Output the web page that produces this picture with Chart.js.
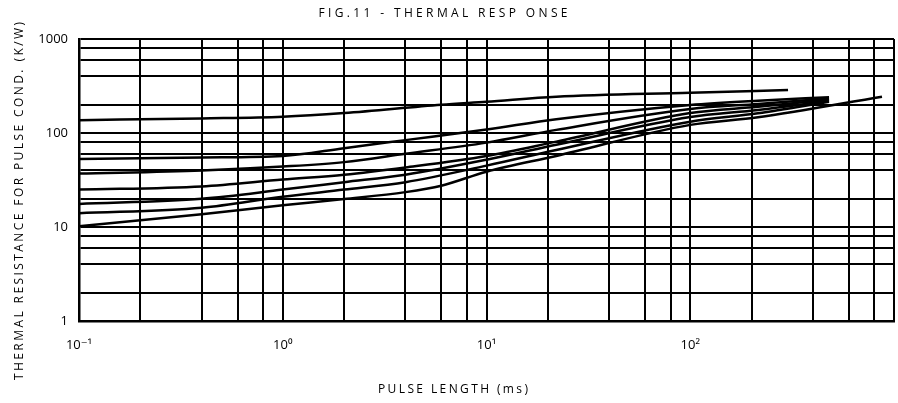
<!DOCTYPE html>
<html>
<head>
<meta charset="utf-8">
<title>Fig.11 - Thermal response</title>
<script src="https://cdn.jsdelivr.net/npm/chart.js@4.4.1/dist/chart.umd.min.js"></script>
<style>
  html, body { margin: 0; padding: 0; background: #fff; }
  canvas { display: block; }
</style>
</head>
<body>
<canvas id="chart" width="898" height="403"></canvas>
<script>
const chartTitle = "FIG.11 - THERMAL RESP ONSE";
const xTitle = "PULSE LENGTH (ms)";
const yTitle = "THERMAL RESISTANCE FOR PULSE COND. (K/W)";

// grid lines like the printed sheet: 1, 2, 4, 6, 8 in every decade
const xGridValues = [0.1, 0.2, 0.4, 0.6, 0.8, 1, 2, 4, 6, 8, 10, 20, 40, 60, 80, 100, 200, 400, 600, 800, 1000];
const yGridValues = [1, 2, 4, 6, 8, 10, 20, 40, 60, 80, 100, 200, 400, 600, 800, 1000];
const xTickLabels = { 0.1: "10\u207B\u00B9", 1: "10\u2070", 10: "10\u00B9", 100: "10\u00B2" };
const yTickLabels = { 1: "1", 10: "10", 100: "100", 1000: "1000" };

// pulse length (ms) -> thermal resistance (K/W)
const curveAx = [0.1, 0.4, 1, 2, 6, 10, 22, 100, 302];
const curveAy = [137, 143, 149, 163, 200, 215, 243, 268, 287];

const curveBx = [0.1, 0.4, 1, 2, 4, 10, 22, 100, 215, 480];
const curveBy = [53, 55, 57, 69, 84, 109, 140, 199, 221, 240];

const curveCx = [0.1, 0.4, 1, 2, 4, 10, 22, 100, 215, 480];
const curveCy = [37, 40, 44, 49, 60, 79, 108, 180, 204, 232];

const curveDx = [0.1, 0.4, 1, 2, 4, 10, 22, 100, 215, 480];
const curveDy = [25, 27, 32, 36, 43, 57, 81, 163, 190, 226];

const curveEx = [0.1, 0.4, 1, 2, 4, 10, 22, 100, 215, 480];
const curveEy = [17.6, 20, 25, 30, 36, 52, 75, 148, 176, 220];

const curveFx = [0.1, 0.4, 1, 2, 4, 10, 22, 100, 215, 480];
const curveFy = [14, 16, 21, 25, 30, 45, 66, 132, 162, 215];

const curveGx = [0.1, 0.4, 1, 2, 4, 6, 10, 22, 100, 215, 873];
const curveGy = [10.2, 13.7, 17, 19.8, 23.5, 27.5, 38.7, 57, 122, 147, 243];

const curves = [
  [curveAx, curveAy],
  [curveBx, curveBy],
  [curveCx, curveCy],
  [curveDx, curveDy],
  [curveEx, curveEy],
  [curveFx, curveFy],
  [curveGx, curveGy],
];

const FONT = '"Open Sans", "DejaVu Sans", sans-serif';

// draws text stretched with letter spacing to a given width
function drawSpaced(ctx, text, x, y, width) {
  ctx.letterSpacing = "0px";
  const w = ctx.measureText(text).width;
  const sp = Math.max(0, (width - w) / (text.length - 1));
  ctx.letterSpacing = sp + "px";
  ctx.fillText(text, x + sp / 2, y);
  ctx.letterSpacing = "0px";
}

const spacedTitles = {
  id: "spacedTitles",
  afterDraw(chart) {
    const ctx = chart.ctx;
    ctx.save();
    ctx.fillStyle = "#000";
    ctx.textAlign = "center";
    ctx.textBaseline = "middle";
    ctx.font = "12px " + FONT;
    drawSpaced(ctx, chartTitle, 443, 14, 249);
    drawSpaced(ctx, xTitle, 453, 390, 150);
    ctx.translate(20, 201);
    ctx.rotate(-Math.PI / 2);
    drawSpaced(ctx, yTitle, 0, 0, 358);
    ctx.restore();
  },
};

new Chart(document.getElementById("chart"), {
  type: "line",
  data: {
    datasets: curves.map(([xs, ys], i) => ({
      label: "curve " + (i + 1),
      data: xs.map((x, j) => ({ x: x, y: ys[j] })),
      borderColor: "#000",
      borderWidth: 2.5,
      pointRadius: 0,
      fill: false,
      cubicInterpolationMode: "monotone",
    })),
  },
  options: {
    responsive: false,
    animation: false,
    layout: { padding: { left: 0, right: 4, top: 39, bottom: 0 } },
    plugins: {
      legend: { display: false },
      title: { display: false },
      tooltip: { enabled: false },
    },
    scales: {
      x: {
        type: "logarithmic",
        min: 0.1,
        max: 1000,
        afterBuildTicks: (scale) => {
          scale.ticks = xGridValues.map((v) => ({ value: v }));
        },
        afterFit: (scale) => {
          scale.height = 82;
          scale.paddingLeft = 0;
          scale.paddingRight = 0;
        },
        grid: { color: "#000", lineWidth: 2, drawTicks: false },
        border: { color: "#000", width: 2.5 },
        ticks: {
          autoSkip: false,
          maxRotation: 0,
          padding: 16,
          color: "#000",
          font: { family: FONT, size: 13 },
          callback: (v) => xTickLabels[v] || "",
        },
      },
      y: {
        type: "logarithmic",
        min: 1,
        max: 1000,
        afterBuildTicks: (scale) => {
          scale.ticks = yGridValues.map((v) => ({ value: v }));
        },
        afterFit: (scale) => {
          scale.width = 79;
          scale.paddingTop = 0;
          scale.paddingBottom = 0;
        },
        grid: { color: "#000", lineWidth: 2, drawTicks: false },
        border: { color: "#000", width: 2.5 },
        ticks: {
          autoSkip: false,
          padding: 11,
          color: "#000",
          font: { family: FONT, size: 13 },
          callback: (v) => yTickLabels[v] || "",
        },
      },
    },
  },
  plugins: [spacedTitles],
});
</script>
</body>
</html>
